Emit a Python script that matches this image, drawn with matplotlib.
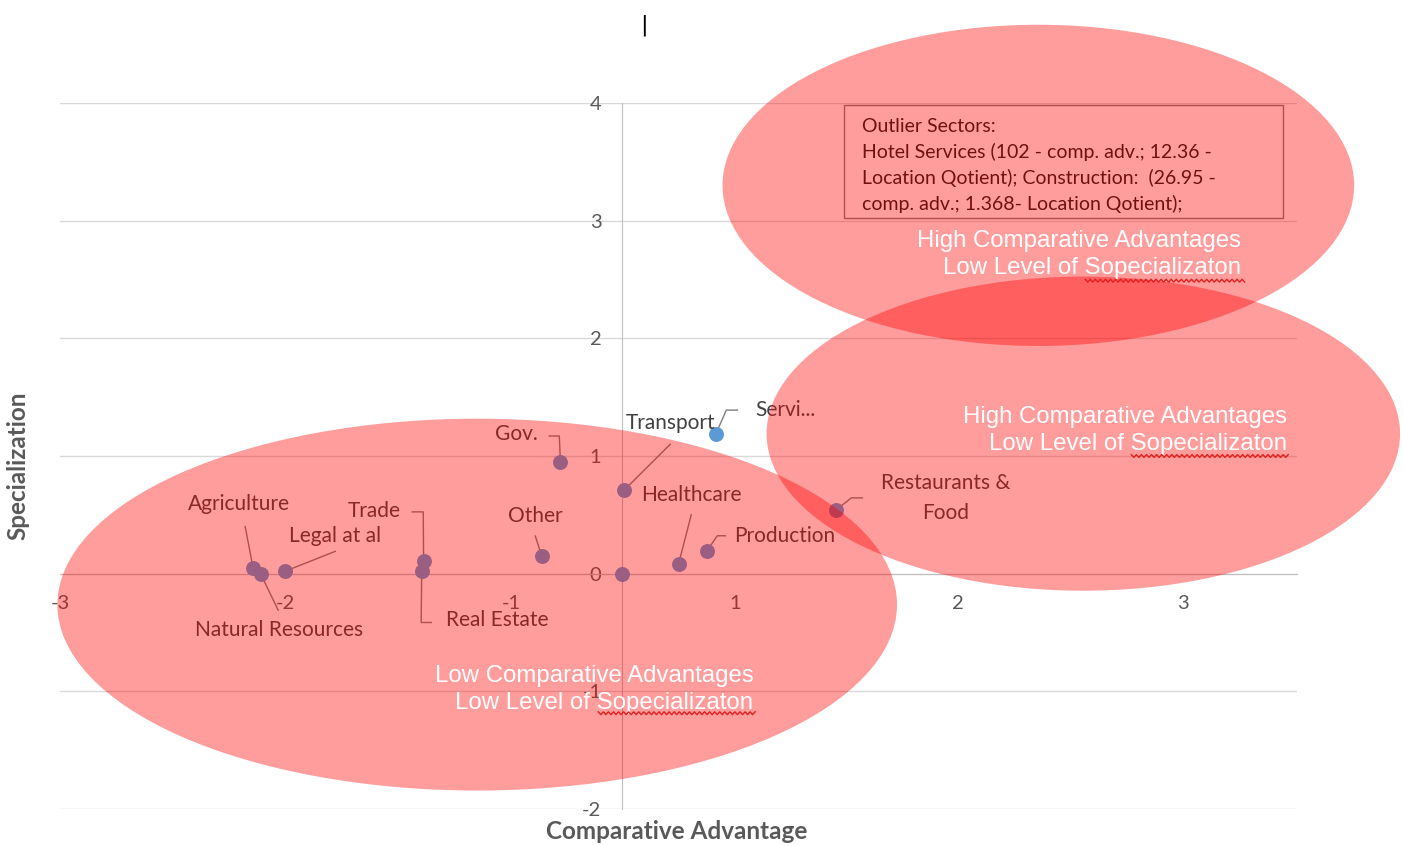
import numpy as np
import matplotlib
matplotlib.use("Agg")
import matplotlib.pyplot as plt
from matplotlib.patches import Ellipse, Rectangle

plt.rcParams['axes.unicode_minus'] = False

# Sector data
sectors = ['Agriculture', 'Natural Resources', 'Legal at al', 'Trade', 'Real Estate', 'Other',
           'Gov.', 'Transport', '', 'Healthcare', 'Production', 'Restaurants &\nFood', 'Servi...']
comp_adv = [-1.97, -1.93, -1.80, -1.06, -1.07, -0.43, -0.33, 0.01, 0.0, 0.30, 0.45, 1.14, 0.50]
special = [0.05, 0.0, 0.02, 0.11, 0.02, 0.15, 0.95, 0.71, 0.0, 0.08, 0.19, 0.54, 1.19]

xtick_labels = ['-3', '-2', '-1', '1', '2', '3']
ytick_vals = [-2, -1, 0, 1, 2, 3, 4]

outlier_text = ("Outlier Sectors:\n"
                "Hotel Services (102 - comp. adv.; 12.36 -\n"
                "Location Qotient); Construction:  (26.95 -\n"
                "comp. adv.; 1.368- Location Qotient);")
zone_high = "High Comparative Advantages\nLow Level of Sopecializaton"
zone_low = "Low Comparative Advantages\nLow Level of Sopecializaton"

# label layout: text position, alignment, leader line waypoints
label_layout = {
    'Agriculture': ((-2.044, 0.593), 'center', [(-2.012, 0.40)]),
    'Natural Resources': ((-1.830, -0.483), 'center', [(-1.836, -0.31)]),
    'Legal at al': ((-1.531, 0.322), 'center', [(-1.531, 0.19)]),
    'Trade': ((-1.323, 0.534), 'center', [(-1.121, 0.525), (-1.062, 0.525)]),
    'Real Estate': ((-0.667, -0.398), 'center', [(-1.019, -0.415), (-1.073, -0.415)]),
    'Other': ((-0.464, 0.49), 'center', [(-0.464, 0.32)]),
    'Gov.': ((-0.566, 1.186), 'center', [(-0.39, 1.17), (-0.336, 1.17)]),
    'Transport': ((0.256, 1.28), 'center', [(0.256, 1.10)]),
    'Servi...': ((0.71, 1.39), 'left', [(0.614, 1.39), (0.555, 1.39)]),
    'Healthcare': ((0.368, 0.67), 'center', [(0.368, 0.50)]),
    'Production': ((0.598, 0.322), 'left', [(0.55, 0.322), (0.507, 0.322)]),
    'Restaurants &\nFood': ((1.724, 0.645), 'center', [(1.281, 0.644), (1.222, 0.644)]),
}

fig = plt.figure(figsize=(14.03, 8.46), dpi=100)
ax = fig.add_axes([60 / 1403, 1 - 809 / 846, 1237 / 1403, 706 / 846])
ax.set_xlim(-3, 3.6)
ax.set_ylim(-2, 4)

gray = '#595959'
ax.spines['top'].set_visible(False)
ax.spines['right'].set_visible(False)
ax.spines['left'].set_position(('data', 0))
ax.spines['bottom'].set_position(('data', 0))
ax.spines['left'].set_color('#bfbfbf')
ax.spines['bottom'].set_color('#bfbfbf')
ax.set_axisbelow(True)
ax.yaxis.grid(True, color='#d9d9d9', lw=1)

xtick_pos = [-3.0, -1.80, -0.593, 0.603, 1.793, 2.994]
ax.set_xticks(xtick_pos)
ax.set_xticklabels(xtick_labels)
ax.set_yticks(ytick_vals)
ax.tick_params(length=0, labelsize=14.5, labelcolor=gray, pad=15)
for t in ax.get_xticklabels() + ax.get_yticklabels():
    t.set_fontfamily('Lato')

ax.scatter(comp_adv, special, s=95, color='#5B9BD5', zorder=3)

# data labels with leader lines
for name, x, y in zip(sectors, comp_adv, special):
    if name not in label_layout:
        continue
    (tx, ty), ha, path = label_layout[name]
    ax.text(tx, ty, name, ha=ha, va='center', fontsize=15, family='Lato',
            color='#404040', zorder=3, multialignment='center', linespacing=1.6)
    xs = [p[0] for p in path] + [x]
    ys = [p[1] for p in path] + [y]
    ax.plot(xs, ys, color='#7f7f7f', lw=1, zorder=2)

# outlier box
ax.add_patch(Rectangle((1.185, 3.025), 2.342, 0.958, fill=False, edgecolor='#7f7f7f',
                       lw=1, zorder=3, clip_on=False))
ax.text(1.28, 3.87, outlier_text, ha='left', va='top', fontsize=14, family='Lato',
        color='#1a1a1a', linespacing=1.52, zorder=3)

# shaded zones
zones = [((2.22, 3.30), 3.37, 2.73), ((2.46, 1.19), 3.38, 2.67), ((-0.774, -0.263), 4.48, 3.16)]
for c, w, h in zones:
    ax.add_patch(Ellipse(c, w, h, facecolor='#ff0000', edgecolor='none', alpha=0.39,
                         zorder=5, clip_on=False))

zone_texts = [((3.303, 2.71), zone_high), ((3.549, 1.22), zone_high), ((0.699, -0.985), zone_low)]
for (zx, zy), txt in zone_texts:
    ax.text(zx, zy, txt, ha='right', va='center', multialignment='right', fontsize=17.3,
            family='Liberation Sans', color='white', linespacing=1.3, zorder=6)

# spell-check squiggles under "Sopecializaton"
squiggles = [(2.47, 3.33, 2.49), (2.716, 3.565, 1.0), (-0.128, 0.71, -1.186)]
for x0, x1, yy in squiggles:
    sx = np.arange(x0, x1, 0.0135)
    sy = yy + np.where(np.arange(len(sx)) % 2 == 0, 0.012, -0.012)
    ax.plot(sx, sy, color='#e02020', lw=1, zorder=6, clip_on=False)

ax.set_xlabel('Comparative Advantage', fontsize=17.5, fontweight='bold', color=gray, family='Lato')
ax.set_ylabel('Specialization', fontsize=17.5, fontweight='bold', color=gray, family='Lato')
ax.xaxis.set_label_coords(617 / 1237, -11 / 706)
ax.yaxis.set_label_coords(-31 / 1237, (809 - 466) / 706)

fig.text(644 / 1403, 1 - 25 / 846, '|', ha='center', va='center', fontsize=16, color='black')

fig.savefig('out.png', dpi=100)
